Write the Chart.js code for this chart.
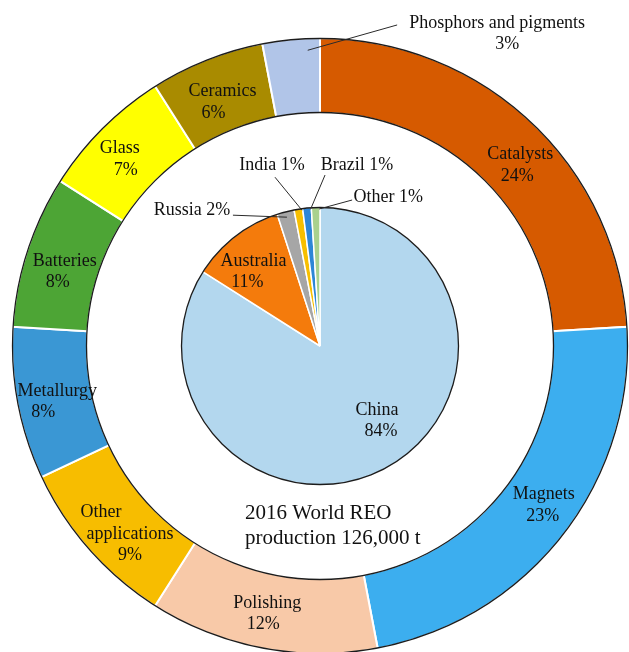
<!DOCTYPE html>
<html>
<head>
<meta charset="utf-8">
<script src="https://cdn.jsdelivr.net/npm/chart.js@4.4.1/dist/chart.umd.min.js"></script>
<style>
  body { margin: 0; background: #fff; }
  #wrap { position: relative; width: 629px; height: 652px; overflow: hidden; }
  #wrap canvas { position: absolute; left: 0; top: 0; }
</style>
</head>
<body>
<div id="wrap">
  <canvas id="useRing" width="629" height="652"></canvas>
  <canvas id="countryPie" width="629" height="652"></canvas>
</div>
<script>
// end uses of rare earth oxides (outer ring)
const useNames = ['Catalysts', 'Magnets', 'Polishing', 'Other applications', 'Metallurgy',
                  'Batteries', 'Glass', 'Ceramics', 'Phosphors and pigments'];
const useShares = [24, 23, 12, 9, 8, 8, 7, 6, 3];
const useColors = ['#d65a00', '#3caeef', '#f8c9a8', '#f7bd00', '#3a97d4',
                   '#4da535', '#ffff00', '#a98b00', '#b1c5e8'];

// producing countries (inner pie)
const countryNames = ['China', 'Australia', 'Russia', 'India', 'Brazil', 'Other'];
const countryShares = [84, 11, 2, 1, 1, 1];
const countryColors = ['#b3d7ee', '#f47b0c', '#a6a6a6', '#f7bf00', '#2d86d6', '#a9d18e'];

const totalCaption = ['2016 World REO', 'production 126,000 t'];

const SERIF = '"Liberation Serif", "Times New Roman", serif';

// caption placement per slice: nudge from the arc centre, per-line x shifts,
// or a leader line from a point on the arc
const usePlacement = [
  {dx: 13.5, dy: 16.5, lineDx: [1.5, -1.5]},
  {dx: 9.5, dy: -6.5, lineDx: [0.5, -0.5]},
  {dx: -4, dy: 2, lineDx: [2, -2]},
  {dx: 13, dy: 9, wrap: true, lineDx: [-29, 0, 0]},
  {dx: -4, dy: 5, lineDx: [7, -7]},
  {dx: -1.5, dy: 9.5, lineDx: [3.5, -3.5]},
  {dx: -6, dy: 4.5, lineDx: [-3, 3]},
  {dx: -2.5, dy: 8, lineDx: [4.5, -4.5]},
  {leader: true, at: 0.78, inset: 12, tx: 194.4, ty: -16.3, lx: 89.4, ly: -25.3, lineDx: [-5, 5]}
];

const countryPlacement = [
  {dx: 25.5, dy: 14, lineDx: [-2, 2]},
  {dx: -27, dy: -19.5, lineDx: [3, -3]},
  {leader: true, inline: true, at: 0.5, inset: 6, tx: -95, ty: -7, lx: -54, ly: -2},
  {leader: true, inline: true, at: 0.9, inset: 2, tx: -30, ty: -45, lx: -27, ly: -33},
  {leader: true, inline: true, at: 0.9, inset: 2, tx: 46.5, ty: -44.3, lx: 14.5, ly: -34.3},
  {leader: true, inline: true, at: 0.9, inset: 2, tx: 69, ty: -12, lx: 33, ly: -9}
];

const LINE_H = 21.5;

const sliceCaptions = {
  id: 'sliceCaptions',
  afterDatasetsDraw(chart, args, opts) {
    const ctx = chart.ctx;
    const meta = chart.getDatasetMeta(0);
    const names = chart.data.labels;
    const values = chart.data.datasets[0].data;
    const first = meta.data[0];

    ctx.save();
    // thin dark outline around the ring / pie
    ctx.strokeStyle = '#1c1c1c';
    ctx.lineWidth = 1.3;
    ctx.beginPath();
    ctx.arc(first.x, first.y, first.outerRadius - 0.5, 0, Math.PI * 2);
    ctx.stroke();
    if (first.innerRadius > 0) {
      ctx.beginPath();
      ctx.arc(first.x, first.y, first.innerRadius + 0.5, 0, Math.PI * 2);
      ctx.stroke();
    }

    ctx.font = opts.font;
    ctx.fillStyle = '#111';
    ctx.textAlign = 'center';
    ctx.textBaseline = 'middle';

    meta.data.forEach((arc, i) => {
      const p = opts.placement[i];
      let lines;
      if (p.inline) lines = [names[i] + ' ' + values[i] + '%'];
      else if (p.wrap) lines = names[i].split(' ').concat([values[i] + '%']);
      else lines = [names[i], values[i] + '%'];

      let cx, cy;
      if (p.leader) {
        const ang = arc.startAngle + p.at * (arc.endAngle - arc.startAngle);
        const r = arc.outerRadius - p.inset;
        const ax = arc.x + Math.cos(ang) * r;
        const ay = arc.y + Math.sin(ang) * r;
        ctx.strokeStyle = '#2a2a2a';
        ctx.lineWidth = 1;
        ctx.beginPath();
        ctx.moveTo(ax, ay);
        ctx.lineTo(ax + p.lx, ay + p.ly);
        ctx.stroke();
        cx = ax + p.tx;
        cy = ay + p.ty;
      } else {
        const c = arc.getCenterPoint();
        cx = c.x + p.dx;
        cy = c.y + p.dy;
      }
      lines.forEach((t, k) => {
        const shift = p.lineDx ? p.lineDx[k] : 0;
        ctx.fillText(t, cx + shift, cy + (k - (lines.length - 1) / 2) * LINE_H);
      });
    });

    if (opts.caption) {
      ctx.font = opts.captionFont;
      ctx.textAlign = 'left';
      opts.caption.forEach((t, k) => {
        ctx.fillText(t, first.x - 75, first.y + 167 + k * 25);
      });
    }
    ctx.restore();
  }
};

const sharedOptions = {
  responsive: false,
  animation: false,
  layout: {padding: {left: 11, right: 0, top: 40, bottom: 0}},
  plugins: {legend: {display: false}, tooltip: {enabled: false}}
};

new Chart(document.getElementById('useRing'), {
  type: 'doughnut',
  data: {
    labels: useNames,
    datasets: [{
      data: useShares,
      backgroundColor: useColors,
      borderColor: '#ffffff',
      borderWidth: 2
    }]
  },
  options: {
    ...sharedOptions,
    radius: 308,
    cutout: '75.65%',
    plugins: {
      ...sharedOptions.plugins,
      sliceCaptions: {
        font: '18px ' + SERIF,
        placement: usePlacement,
        caption: totalCaption,
        captionFont: '21px ' + SERIF
      }
    }
  },
  plugins: [sliceCaptions]
});

new Chart(document.getElementById('countryPie'), {
  type: 'pie',
  data: {
    labels: countryNames,
    datasets: [{
      data: countryShares,
      backgroundColor: countryColors,
      borderColor: '#ffffff',
      borderWidth: 1.5
    }]
  },
  options: {
    ...sharedOptions,
    radius: 139,
    plugins: {
      ...sharedOptions.plugins,
      sliceCaptions: {
        font: '18px ' + SERIF,
        placement: countryPlacement
      }
    }
  },
  plugins: [sliceCaptions]
});
</script>
</body>
</html>
